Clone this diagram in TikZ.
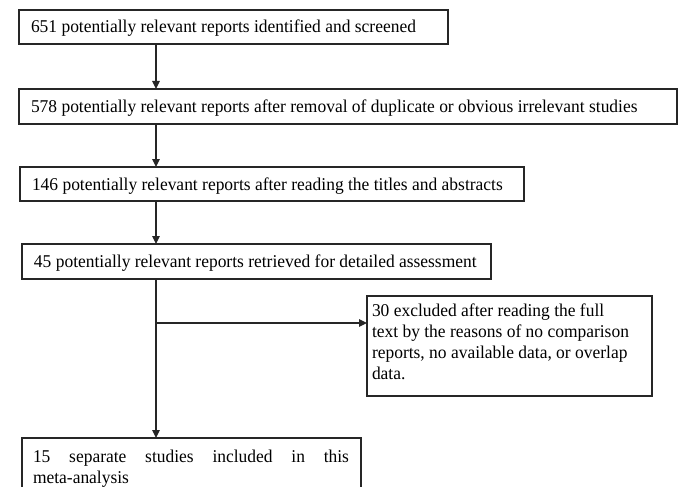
\documentclass[tikz,border=0pt]{standalone}
\usepackage{fontspec}
\setmainfont{Liberation Serif}[FakeStretch=0.97]
\usetikzlibrary{arrows.meta}
\newcommand\boxtext[2]{\parbox[t]{#1}{\raggedright\fontsize{18}{21}\selectfont #2}}
\begin{document}
\begin{tikzpicture}[x=1pt,y=-1pt,
  box/.style={draw=black!85, line width=1.1pt, anchor=north west, outer sep=0pt,
    inner ysep=0pt, inner xsep=12pt, text height=12pt, text depth=0pt},
  arr/.style={draw=black!85, line width=1.1pt, -{Triangle[length=8pt,width=7.5pt]}}]
\useasboundingbox (0,0) rectangle (678,487);
\clip (0,0) rectangle (678,487);
\fill[white] (0,0) rectangle (678,487);

\node[box, minimum height=34pt] (b1) at (19,10)
  {\boxtext{405pt}{651 potentially relevant reports identified and screened}};
\node[box, minimum height=35pt] (b2) at (19,89)
  {\boxtext{634pt}{578 potentially relevant reports after removal of duplicate or obvious irrelevant studies}};
\node[box, minimum height=34pt] (b3) at (20,167)
  {\boxtext{480pt}{146 potentially relevant reports after reading the titles and abstracts}};
\node[box, minimum height=35pt] (b4) at (22,244)
  {\boxtext{445pt}{45 potentially relevant reports retrieved for detailed assessment}};
\node[box, inner xsep=5pt, minimum height=100pt, text height=20pt, text depth=80pt] (b5) at (367,296)
  {\boxtext{275pt}{30 excluded after reading the full\\
   text by the reasons of no comparison\\
   reports, no available data, or overlap\\
   data.}};
\node[box, inner xsep=11pt, minimum height=60pt, text height=24pt, text depth=36pt] (b6) at (22,438)
  {\boxtext{317pt}{\makebox[316pt][l]{15\hfill separate\hfill studies\hfill included\hfill in\hfill this}\\meta-analysis}};

\coordinate (c) at (156,0);
\coordinate (j) at (156,323);

\draw[arr] (b1.south -| c) -- (b2.north -| c);
\draw[arr] (b2.south -| c) -- (b3.north -| c);
\draw[arr] (b3.south -| c) -- (b4.north -| c);
\draw[arr] (b4.south -| c) -- (b6.north -| c);
\draw[arr] (j) -- (j -| b5.west);
\end{tikzpicture}
\end{document}
